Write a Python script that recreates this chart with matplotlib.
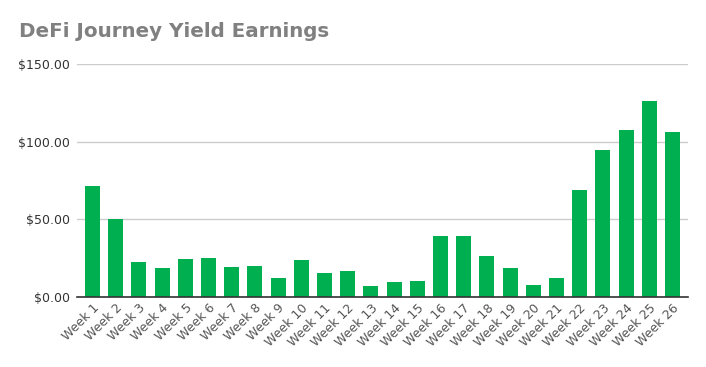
import numpy as np
import matplotlib
matplotlib.use("Agg")
import matplotlib.pyplot as plt
from matplotlib.ticker import FuncFormatter

# data
weeks = [f"Week {i}" for i in range(1, 27)]
earnings = [71.6, 50.2, 22.5, 18.6, 24.4, 25.1, 19.3, 19.9, 12.2, 23.8,
            15.4, 16.7, 7.1, 9.7, 10.3, 39.3, 39.3, 26.4, 18.7, 7.7,
            12.2, 68.9, 94.7, 107.6, 126.3, 106.3]
y_ticks = [0, 50, 100, 150]

fig = plt.figure(figsize=(7.06, 3.67), dpi=100)
ax = fig.add_axes([0.109, 0.1907, 0.8655, 0.635])

x = np.arange(len(weeks))
ax.bar(x, earnings, width=0.65, color="#00b050", zorder=3)

ax.set_ylim(0, 150)
ax.set_xlim(-0.668, len(weeks) - 1 + 0.668)
ax.set_yticks(y_ticks)
ax.yaxis.set_major_formatter(FuncFormatter(lambda v, p: f"${v:,.2f}"))
ax.grid(axis="y", color="#cccccc", linewidth=1, zorder=0)
ax.set_axisbelow(True)

for s in ["top", "right", "left"]:
    ax.spines[s].set_visible(False)
ax.spines["bottom"].set_color("#333333")
ax.spines["bottom"].set_linewidth(1.2)
ax.spines["bottom"].set_zorder(4)

ax.tick_params(axis="y", length=0, pad=5, labelsize=9, labelcolor="#333333")
ax.tick_params(axis="x", length=0, pad=3, labelsize=9, labelcolor="#555555")
ax.set_xticks(x)
ax.set_xticklabels(weeks, rotation=45, ha="right", rotation_mode="anchor")

fig.text(0.027, 0.913, "DeFi Journey Yield Earnings", fontsize=14.3,
         fontweight="bold", color="#808080", ha="left", va="center")

fig.savefig("out.png", dpi=100)
